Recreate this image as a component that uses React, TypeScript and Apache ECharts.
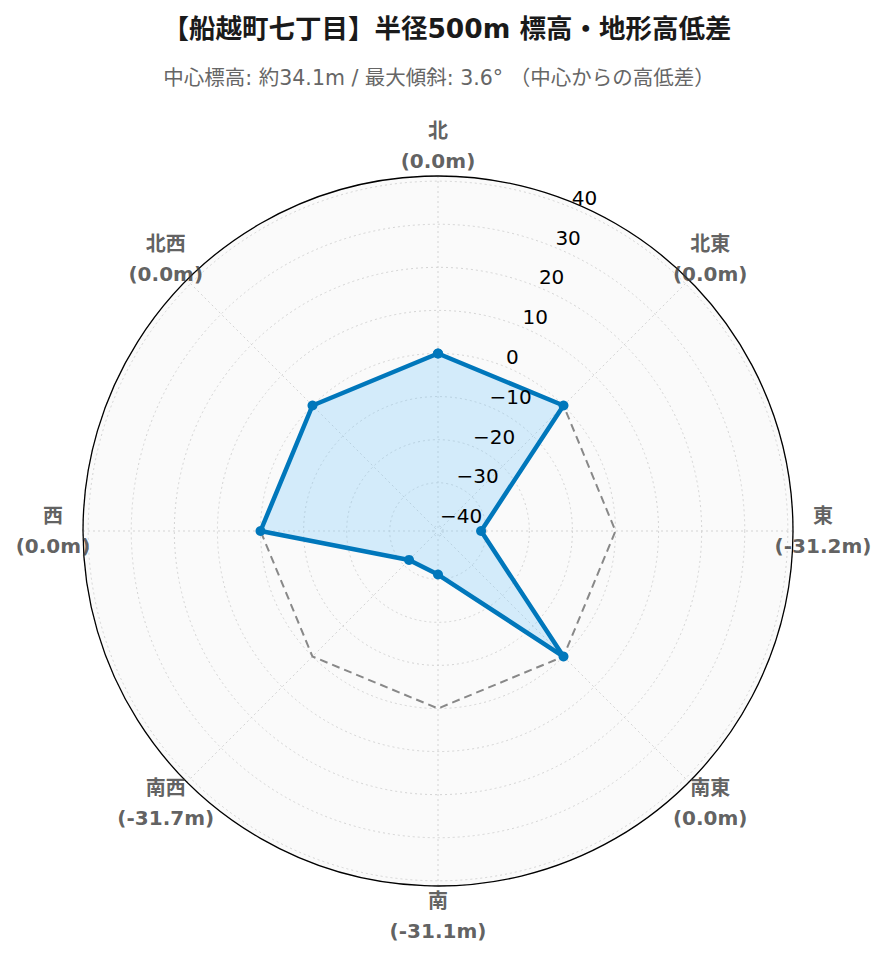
import React, { useEffect, useRef } from "react";
import * as echarts from "echarts";

const titleText = "【船越町七丁目】半径500m 標高・地形高低差";
const subtitleText = "中心標高: 約34.1m / 最大傾斜: 3.6° （中心からの高低差）";

// Directions, clockwise from north (bearing in degrees)
const directions = ["北", "北東", "東", "南東", "南", "南西", "西", "北西"];
const bearings = [0, 45, 90, 135, 180, 225, 270, 315];
// Elevation difference from the centre (m)
const elevationDiff = [0.0, 0.0, -31.2, 0.0, -31.1, -31.7, 0.0, 0.0];
// Reference level (centre elevation = 0 m)
const referenceLevel = [0, 0, 0, 0, 0, 0, 0, 0];
// Radial axis range and ticks
const radialMin = -41.2;
const radialMax = 41.2;
const radialTicks = [-40, -30, -20, -10, 0, 10, 20, 30, 40];

const FONT = "'DejaVu Sans', 'Noto Sans CJK JP', sans-serif";
const GRID = { color: "#d4d4d4", width: 1, type: [2, 3] };

function closedLoop(vals: number[]) {
  const pts = vals.map((v, i) => [v, bearings[i]]);
  pts.push([vals[0], bearings[0]]);
  return pts;
}

export default function App() {
  const ref = useRef<HTMLDivElement>(null);
  useEffect(() => {
    if (!ref.current) return;
    const chart = echarts.init(ref.current, undefined, { renderer: "svg" });
    const labelDist = 30;
    const polarBox = { center: [438, 531], radius: 355 };
    const option: any = {
      animation: false,
      backgroundColor: "#ffffff",
      textStyle: { fontFamily: FONT },
      title: [
        {
          text: titleText,
          left: 442,
          textAlign: "center",
          top: 10,
          textStyle: { fontFamily: FONT, fontSize: 26.5, fontWeight: "bold", color: "#1a1a1a" },
        },
        {
          text: subtitleText,
          left: 434,
          textAlign: "center",
          top: 63,
          textStyle: { fontFamily: FONT, fontSize: 20.5, fontWeight: "normal", color: "#666666" },
        },
      ],
      polar: [polarBox, polarBox, polarBox],
      angleAxis: [
        {
          polarIndex: 0,
          type: "value",
          min: 0,
          max: 360,
          interval: 45,
          startAngle: 90,
          clockwise: true,
          z: 2,
          axisLine: { show: true, lineStyle: { color: "#000000", width: 1.3 } },
          axisTick: { show: false },
          axisLabel: { show: false },
          splitLine: { show: true, lineStyle: GRID },
        },
        {
          polarIndex: 1,
          type: "value",
          min: 0,
          max: 360,
          startAngle: 67.5,
          clockwise: true,
          show: false,
        },
        {
          polarIndex: 2,
          type: "value",
          min: 0,
          max: 360,
          startAngle: 90,
          show: false,
        },
      ],
      radiusAxis: [
        {
          polarIndex: 0,
          min: radialMin,
          max: radialMax,
          splitNumber: 8,
          z: 1,
          axisLine: { show: false },
          axisTick: { show: false },
          axisLabel: { show: false },
          splitLine: { show: true, lineStyle: GRID },
          splitArea: { show: false },
        },
        {
          polarIndex: 1,
          min: radialMin,
          max: radialMax,
          splitNumber: 8,
          z: 8,
          axisLine: { show: false },
          axisTick: { show: false },
          splitLine: { show: false },
          splitArea: { show: false },
          axisLabel: {
            show: true,
            margin: 0,
            align: "left",
            verticalAlign: "bottom",
            fontFamily: FONT,
            fontSize: 20,
            lineHeight: 20,
            color: "#000000",
            formatter: (v: number) => {
              const t = radialTicks.find((k) => Math.abs(k - v) < 1e-6);
              if (t === undefined) return "";
              return t < 0 ? "\u2212" + Math.abs(t) : String(t);
            },
          },
        },
        {
          polarIndex: 2,
          min: radialMin,
          max: radialMax,
          splitNumber: 8,
          z: 0,
          axisLine: { show: false },
          axisTick: { show: false },
          axisLabel: { show: false },
          splitLine: { show: false },
          splitArea: { show: true, areaStyle: { color: ["#fafafa", "#fafafa"] } },
        },
      ],
      series: [
        {
          type: "line",
          coordinateSystem: "polar",
          polarIndex: 0,
          data: closedLoop(referenceLevel),
          symbol: "none",
          clip: false,
          z: 3,
          lineStyle: { color: "#888888", width: 2, type: [8, 5] },
        },
        {
          type: "line",
          coordinateSystem: "polar",
          polarIndex: 0,
          data: closedLoop(elevationDiff),
          symbol: "circle",
          symbolSize: 10,
          clip: false,
          z: 4,
          lineStyle: { color: "#0077bb", width: 4.5 },
          itemStyle: { color: "#0077bb", borderWidth: 0 },
          areaStyle: { color: "rgba(135, 206, 250, 0.34)", opacity: 1, origin: "start" },
        },
        {
          type: "scatter",
          coordinateSystem: "polar",
          polarIndex: 0,
          z: 5,
          symbolSize: 1,
          itemStyle: { color: "rgba(0,0,0,0)" },
          data: directions.map((d, i) => {
            const a = ((90 - bearings[i]) * Math.PI) / 180;
            return {
              value: [radialMax, bearings[i]],
              label: {
                show: true,
                position: "inside",
                offset: [labelDist * Math.cos(a), -labelDist * Math.sin(a)],
                formatter: `{a|${d}}\n{a|(${elevationDiff[i].toFixed(1)}m)}`,
                rich: {
                  a: {
                    fontFamily: FONT,
                    fontSize: 20,
                    fontWeight: "bold",
                    color: "#383838",
                    lineHeight: 30,
                    align: "center",
                  },
                },
              },
            };
          }),
        },
      ],
    };
    chart.setOption(option);
    return () => chart.dispose();
  }, []);
  return (
    <div
      ref={ref}
      style={{ position: "absolute", left: 0, top: 0, width: 887, height: 962 }}
    />
  );
}
